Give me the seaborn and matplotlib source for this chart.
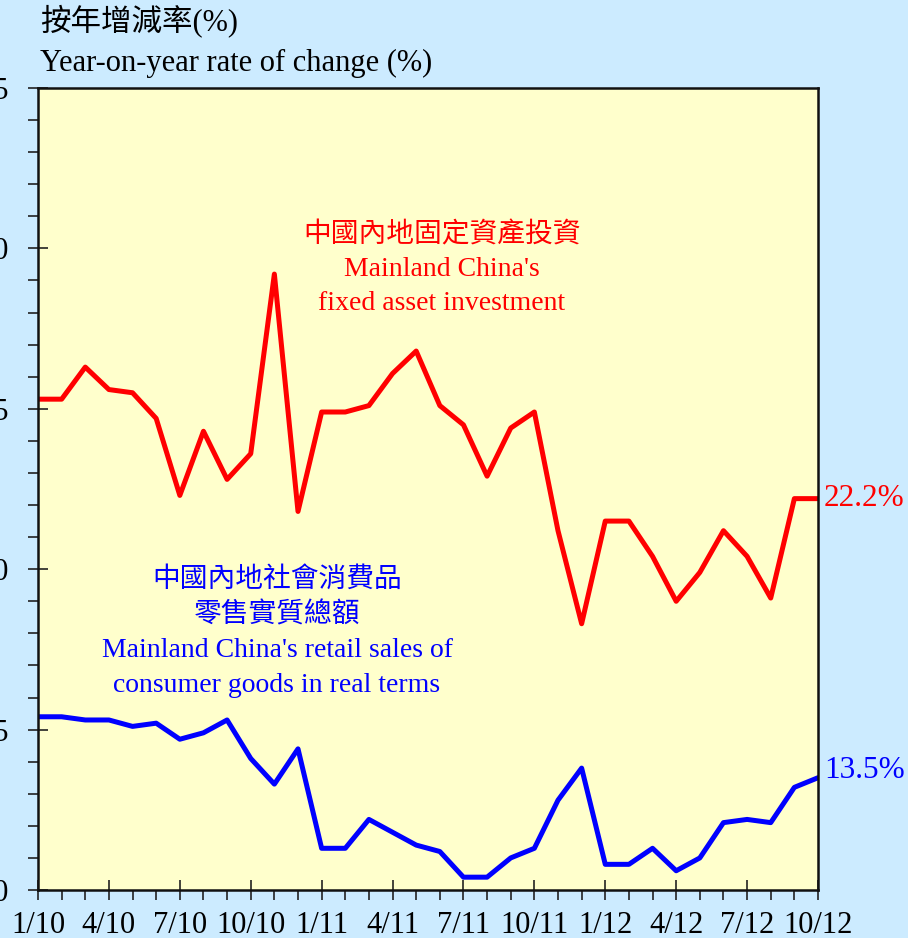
import matplotlib.pyplot as plt
import pandas as pd
import seaborn as sns
from matplotlib.ticker import MultipleLocator

# Monthly data, 1/2010 - 10/2012
months = ['1/10', '2/10', '3/10', '4/10', '5/10', '6/10', '7/10', '8/10', '9/10', '10/10', '11/10', '12/10',
          '1/11', '2/11', '3/11', '4/11', '5/11', '6/11', '7/11', '8/11', '9/11', '10/11', '11/11', '12/11',
          '1/12', '2/12', '3/12', '4/12', '5/12', '6/12', '7/12', '8/12', '9/12', '10/12']
fixed_asset = [25.3, 25.3, 26.3, 25.6, 25.5, 24.7, 22.3, 24.3, 22.8, 23.6, 29.2, 21.8,
               24.9, 24.9, 25.1, 26.1, 26.8, 25.1, 24.5, 22.9, 24.4, 24.9, 21.2, 18.3,
               21.5, 21.5, 20.4, 19.0, 19.9, 21.2, 20.4, 19.1, 22.2, 22.2]
retail_sales = [15.4, 15.4, 15.3, 15.3, 15.1, 15.2, 14.7, 14.9, 15.3, 14.1, 13.3, 14.4,
                11.3, 11.3, 12.2, 11.8, 11.4, 11.2, 10.4, 10.4, 11.0, 11.3, 12.8, 13.8,
                10.8, 10.8, 11.3, 10.6, 11.0, 12.1, 12.2, 12.1, 13.2, 13.5]
tick_labels = ['1/10', '4/10', '7/10', '10/10', '1/11', '4/11', '7/11', '10/11', '1/12', '4/12', '7/12', '10/12']
y_ticks = [10, 15, 20, 25, 30, 35]

df = pd.DataFrame({'month': months, 'idx': range(len(months)),
                   'fixed': fixed_asset, 'retail': retail_sales})

sns.set_style('ticks')
plt.rcParams['font.family'] = ['Liberation Serif', 'Noto Sans CJK TC']
plt.rcParams['text.color'] = 'black'
plt.rcParams['xtick.labelcolor'] = 'black'
plt.rcParams['ytick.labelcolor'] = 'black'

W, H = 908, 938
fig = plt.figure(figsize=(W / 100, H / 100), dpi=100)
fig.patch.set_facecolor('#CCEBFF')
ax = fig.add_axes([38 / W, 1 - 890 / H, 780 / W, 802 / H])
ax.set_facecolor('#FFFFCC')

sns.lineplot(data=df, x='idx', y='fixed', color='#FF0000', linewidth=3.6, ax=ax)
sns.lineplot(data=df, x='idx', y='retail', color='#0000FF', linewidth=3.6, ax=ax)

ax.set_xlim(0, len(months) - 1)
ax.set_ylim(10, 35)
ax.set_xlabel('')
ax.set_ylabel('')

ax.set_xticks(range(0, len(months), 3))
ax.set_xticklabels(tick_labels, fontsize=22)
ax.xaxis.set_minor_locator(MultipleLocator(1))
ax.set_yticks(y_ticks)
ax.set_yticklabels([str(v) for v in y_ticks], fontsize=22)
ax.yaxis.set_minor_locator(MultipleLocator(1))

ax.tick_params(axis='both', which='major', direction='inout', length=14, width=1.2, color='#222222')
ax.tick_params(axis='both', which='minor', direction='out', length=7, width=1.2, color='#222222')
ax.tick_params(axis='x', which='major', pad=8)
ax.tick_params(axis='y', which='major', pad=14)

for s in ax.spines.values():
    s.set_visible(True)
    s.set_linewidth(1.8)
    s.set_color('#111111')

# axis titles
fig.text(40 / W, 1 - 22 / H, '按年增減率(%)', fontsize=22, va='center', ha='left')
fig.text(40 / W, 1 - 63 / H, 'Year-on-year rate of change (%)', fontsize=22, va='center', ha='left')

# series annotations
fig.text(442 / W, 1 - 269 / H, "中國內地固定資產投資\nMainland China's\nfixed asset investment",
         fontsize=20, color='#FF0000', ha='center', va='center', linespacing=1.45)
fig.text(277 / W, 1 - 632 / H, "中國內地社會消費品\n零售實質總額\nMainland China's retail sales of\nconsumer goods in real terms",
         fontsize=20, color='#0000FF', ha='center', va='center', linespacing=1.5)

# end values
fig.text(824 / W, 1 - 498 / H, '22.2%', fontsize=22.5, color='#FF0000', ha='left', va='center')
fig.text(824 / W, 1 - 770 / H, '13.5%', fontsize=22.5, color='#0000FF', ha='left', va='center')

fig.savefig('out.png', dpi=100)
